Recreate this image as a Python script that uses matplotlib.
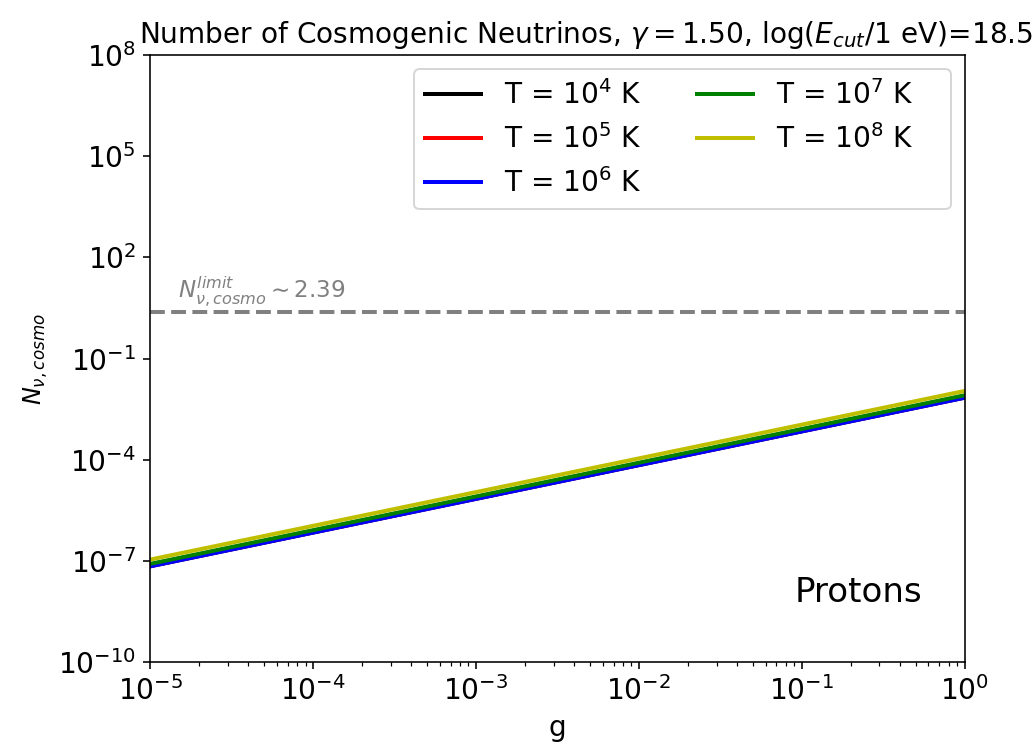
import numpy as np
import matplotlib
matplotlib.use("Agg")
import matplotlib.pyplot as plt
from matplotlib.ticker import LogLocator, NullLocator

g_vals = [1e-5, 1e-4, 1e-3, 1e-2, 1e-1, 1.0]
temps = ["10^4", "10^5", "10^6", "10^7", "10^8"]
colors = ["k", "r", "b", "g", "y"]
n_T4 = [7.0e-8, 7.0e-7, 7.0e-6, 7.0e-5, 7.0e-4, 7.0e-3]
n_T5 = [7.0e-8, 7.0e-7, 7.0e-6, 7.0e-5, 7.0e-4, 7.0e-3]
n_T6 = [6.9e-8, 6.9e-7, 6.9e-6, 6.9e-5, 6.9e-4, 6.9e-3]
n_T7 = [8.2e-8, 8.2e-7, 8.2e-6, 8.2e-5, 8.2e-4, 8.2e-3]
n_T8 = [1.1e-7, 1.1e-6, 1.1e-5, 1.1e-4, 1.1e-3, 1.1e-2]
n_limit = 2.39

fig = plt.figure(figsize=(1035 / 144, 744 / 144), dpi=144)
ax = fig.add_axes([0.145, 0.110, 0.787, 0.816])

for i, (T, c, n) in enumerate(zip(temps, colors, [n_T4, n_T5, n_T6, n_T7, n_T8])):
    # second legend column sits a bit wider in the original
    pad = "    " if i >= 3 else ""
    ax.plot(g_vals, n, color=c, lw=2, label=rf"T = ${T}$ K" + pad)

ax.axhline(n_limit, color="grey", ls="--", lw=2)
ax.text(1.49e-5, 6.2, r"$N_{\nu,cosmo}^{limit} \sim 2.39$",
        color="grey", fontsize=11.5, va="baseline")

ax.set_xscale("log")
ax.set_yscale("log")
ax.set_xlim(1e-5, 1)
ax.set_ylim(1e-10, 1e8)
ax.set_yticks([1e-10, 1e-7, 1e-4, 1e-1, 1e2, 1e5, 1e8])
ax.yaxis.set_minor_locator(NullLocator())
ax.xaxis.set_minor_locator(LogLocator(base=10, subs=np.arange(2, 10), numticks=20))
ax.tick_params(labelsize=14)
ax.set_xlabel("g", fontsize=14)
ax.set_ylabel(r"$N_{\nu,cosmo}$", fontsize=12)
ax.set_title(r"Number of Cosmogenic Neutrinos, $\gamma=1.50$, log($E_{cut}$/1 eV)=18.5",
             fontsize=14, x=0.535)
ax.text(0.948, 0.114, "Protons", transform=ax.transAxes, ha="right", va="center",
        fontsize=17)
ax.legend(loc="upper right", ncol=2, fontsize=14)

fig.savefig("out.png", dpi=144)
